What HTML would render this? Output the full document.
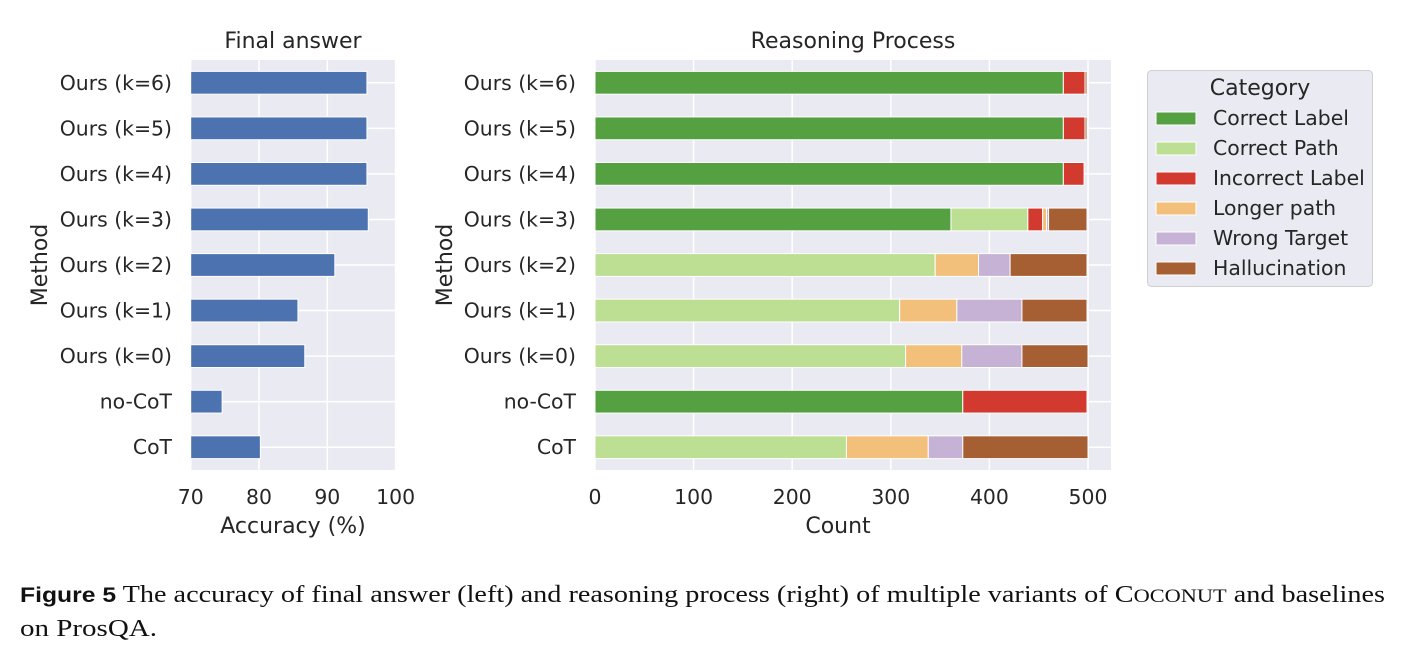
<!DOCTYPE html>
<html><head><meta charset="utf-8"><style>
body{margin:0;background:#fff;}
svg{display:block;}
text{font-family:"DejaVu Sans","Liberation Sans",sans-serif;fill:#262626;}
.cap{font-family:"Liberation Serif",serif;fill:#111;font-size:24px;}
</style></head><body>
<svg id="fig" width="1402" height="652" viewBox="0 0 1402 652" xmlns="http://www.w3.org/2000/svg">
<g id="left"></g>
<g id="right"></g>
<g id="legend"></g>
<text class="cap" x="20" y="602" textLength="1365" lengthAdjust="spacingAndGlyphs"><tspan style="font-family:'Liberation Sans',sans-serif;font-weight:bold;font-size:21px">Figure 5</tspan>  The accuracy of final answer (left) and reasoning process (right) of multiple variants of C<tspan font-size="19">OCONUT</tspan> and baselines</text>
<text class="cap" x="20" y="636" textLength="137" lengthAdjust="spacingAndGlyphs">on ProsQA.</text>
</svg>
<script>
const categories = ["Ours (k=6)","Ours (k=5)","Ours (k=4)","Ours (k=3)","Ours (k=2)","Ours (k=1)","Ours (k=0)","no-CoT","CoT"];
const accuracy = [95.8,95.8,95.8,96.0,91.1,85.7,86.7,74.6,80.2];
const leftTicks = [70,80,90,100];
const rightTicks = [0,100,200,300,400,500];
const seriesNames = ["Correct Label","Correct Path","Incorrect Label","Longer path","Wrong Target","Hallucination"];
const seriesColors = ["#55a041","#bddf93","#d23a2f","#f3c07c","#c6b2d5","#a65f33"];
const correctLabel = [475,475,475,361,0,0,0,373,0];
const correctPath = [0,0,0,78,345,309,315,0,255];
const incorrectLabel = [22,22,21,15,0,0,0,126,0];
const longerPath = [0,0,0,4,44,58,57,0,83];
const wrongTarget = [0,0,0,2,32,66,61,0,35];
const hallucination = [2,2,0,39,78,66,67,0,127];

const NS="http://www.w3.org/2000/svg";
function mk(parent,tag,attrs,txt){const e=document.createElementNS(NS,tag);for(const k in attrs)e.setAttribute(k,attrs[k]);if(txt!==undefined)e.textContent=txt;parent.appendChild(e);return e;}
const yTop=60,yBot=470,band=(yBot-yTop)/categories.length;
const yc=i=>yTop+(i+0.5)*band;
const FS=20.4, TS=22;

// Left chart
const L=document.getElementById('left');
const lx0=190.7,lx1=395.6;
const lx=v=>lx0+(v-70)/30*(lx1-lx0);
let r=mk(L,'rect',{x:lx0,y:yTop,width:lx1-lx0,height:yBot-yTop,fill:'#eaeaf2'});

leftTicks.forEach(t=>{
 let g=mk(L,'line',{x1:lx(t),x2:lx(t),y1:yTop,y2:yBot,stroke:'#fff','stroke-width':1.5});
 
 let tl=mk(L,'text',{x:lx(t),y:504,'font-size':FS,'text-anchor':'middle'},t);
 
});
categories.forEach((c,i)=>{
 let g=mk(L,'line',{x1:lx0,x2:lx1,y1:yc(i),y2:yc(i),stroke:'#fff','stroke-width':1.5});
 
});
categories.forEach((c,i)=>{
 let b=mk(L,'rect',{x:lx0,y:yc(i)-band*0.25,width:lx(accuracy[i])-lx0,height:band*0.5,fill:'#4c72b0',stroke:'#fff','stroke-width':1});
 
 let t=mk(L,'text',{x:172,y:yc(i)+7,'font-size':FS,'text-anchor':'end'},c);
 
});
let lt=mk(L,'text',{x:293,y:48,'font-size':TS,'text-anchor':'middle'},'Final answer');

let lxl=mk(L,'text',{x:293,y:533,'font-size':TS,'text-anchor':'middle'},'Accuracy (%)');

let lyl=mk(L,'text',{x:0,y:0,'font-size':TS,'text-anchor':'middle',transform:'translate(47,265) rotate(-90)'},'Method');


// Right chart
const R=document.getElementById('right');
const rx0=595,rEnd=1111,rx=v=>rx0+v*0.986;
r=mk(R,'rect',{x:rx0,y:yTop,width:rEnd-rx0,height:yBot-yTop,fill:'#eaeaf2'});

rightTicks.forEach(t=>{
 let g=mk(R,'line',{x1:rx(t),x2:rx(t),y1:yTop,y2:yBot,stroke:'#fff','stroke-width':1.5});
 
 let tl=mk(R,'text',{x:rx(t),y:504,'font-size':FS,'text-anchor':'middle'},t);
 
});
categories.forEach((c,i)=>{
 let g=mk(R,'line',{x1:rx0,x2:rEnd,y1:yc(i),y2:yc(i),stroke:'#fff','stroke-width':1.5});
 
});
const series=[correctLabel,correctPath,incorrectLabel,longerPath,wrongTarget,hallucination];
categories.forEach((c,i)=>{
 let acc=0;
 series.forEach((s,k)=>{
  const v=s[i];
  if(v>0){
   let b=mk(R,'rect',{x:rx(acc),y:yc(i)-band*0.25,width:rx(acc+v)-rx(acc),height:band*0.5,fill:seriesColors[k],stroke:'#fff','stroke-width':1});
   
  }
  acc+=v;
 });
 let t=mk(R,'text',{x:576,y:yc(i)+7,'font-size':FS,'text-anchor':'end'},c);
 
});
let rt=mk(R,'text',{x:853,y:48,'font-size':TS,'text-anchor':'middle'},'Reasoning Process');

let rxl=mk(R,'text',{x:838,y:533,'font-size':TS,'text-anchor':'middle'},'Count');

let ryl=mk(R,'text',{x:0,y:0,'font-size':TS,'text-anchor':'middle',transform:'translate(452,265) rotate(-90)'},'Method');


// Legend
const G=document.getElementById('legend');
let box=mk(G,'rect',{x:1147.5,y:70.5,width:225,height:216,rx:4,fill:'#eaeaf2',stroke:'#d0d0d0','stroke-width':1});

let lgT=mk(G,'text',{x:1260,y:95,'font-size':TS,'text-anchor':'middle'},'Category');

seriesNames.forEach((n,k)=>{
 const y=118+k*30;
 let sw=mk(G,'rect',{x:1156,y:y-6,width:40,height:13,fill:seriesColors[k],stroke:'#fff','stroke-width':1});
 
 let t=mk(G,'text',{x:1213,y:y+7,'font-size':FS},n);
 
});
</script>
</body></html>
